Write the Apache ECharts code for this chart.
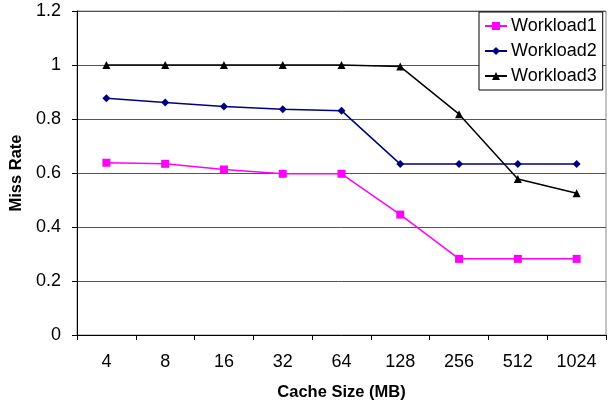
<!DOCTYPE html>
<html>
<head>
<meta charset="utf-8">
<script src="https://cdn.jsdelivr.net/npm/echarts@6/dist/echarts.min.js"></script>
<style>html,body{margin:0;padding:0;background:#fff}#c{width:608px;height:406px}</style>
</head>
<body>
<div id="c"></div>
<script>
const categories = ['4', '8', '16', '32', '64', '128', '256', '512', '1024'];
const workload1 = [0.638, 0.634, 0.613, 0.597, 0.597, 0.446, 0.282, 0.282, 0.282];
const workload2 = [0.877, 0.861, 0.846, 0.836, 0.831, 0.633, 0.633, 0.633, 0.633];
const workload3 = [1.0, 1.0, 1.0, 1.0, 1.0, 0.994, 0.818, 0.578, 0.525];
const seriesNames = ['Workload1', 'Workload2', 'Workload3'];

const chart = echarts.init(document.getElementById('c'), null, {renderer: 'canvas'});
const font = 'Liberation Sans, Arial, sans-serif';
chart.setOption({
  animation: false,
  backgroundColor: '#fff',
  grid: {left: 77, right: 2, top: 11, bottom: 69, show: true, borderColor: '#888', borderWidth: 1, backgroundColor: '#fff'},
  legend: {
    orient: 'vertical', left: 479, top: 12,
    padding: [5, 6, 5, 5],
    itemWidth: 22, itemHeight: 10, itemGap: 7,
    borderColor: '#000', borderWidth: 1, backgroundColor: '#fff',
    textStyle: {fontFamily: font, fontSize: 18, color: '#000', padding: [0,0,0,-1]},
    data: seriesNames
  },
  xAxis: {
    type: 'category', data: categories, boundaryGap: true,
    name: 'Cache Size (MB)', nameLocation: 'middle', nameGap: 49,
    nameTextStyle: {fontFamily: font, fontSize: 16.5, fontWeight: 'bold', color: '#000'},
    axisLine: {lineStyle: {color: '#000', width: 1}},
    axisTick: {show: true, length: 5, lineStyle: {color: '#000'}},
    axisLabel: {fontFamily: font, fontSize: 18, color: '#000', margin: 18},
    splitLine: {show: false}
  },
  yAxis: {
    type: 'value', min: 0, max: 1.2, interval: 0.2,
    name: 'Miss Rate', nameLocation: 'middle', nameGap: 47, nameRotate: 90,
    nameTextStyle: {fontFamily: font, fontSize: 16.5, fontWeight: 'bold', color: '#000'},
    axisLine: {show: true, lineStyle: {color: '#000', width: 1}},
    axisTick: {show: true, length: 5, lineStyle: {color: '#000'}},
    axisLabel: {fontFamily: font, fontSize: 18, color: '#000', margin: 16},
    splitLine: {show: true, lineStyle: {color: '#555', width: 1}}
  },
  series: [
    {name: seriesNames[0], type: 'line', data: workload1, color: '#FF00FF',
     symbol: 'rect', symbolSize: 8, lineStyle: {width: 1.5}, itemStyle: {color: '#FF00FF'}},
    {name: seriesNames[1], type: 'line', data: workload2, color: '#000080',
     symbol: 'diamond', symbolSize: 8, lineStyle: {width: 1.5}, itemStyle: {color: '#000080'}},
    {name: seriesNames[2], type: 'line', data: workload3, color: '#000000',
     symbol: 'triangle', symbolSize: 8, lineStyle: {width: 1.5}, itemStyle: {color: '#000000'}}
  ]
});
</script>
</body>
</html>
